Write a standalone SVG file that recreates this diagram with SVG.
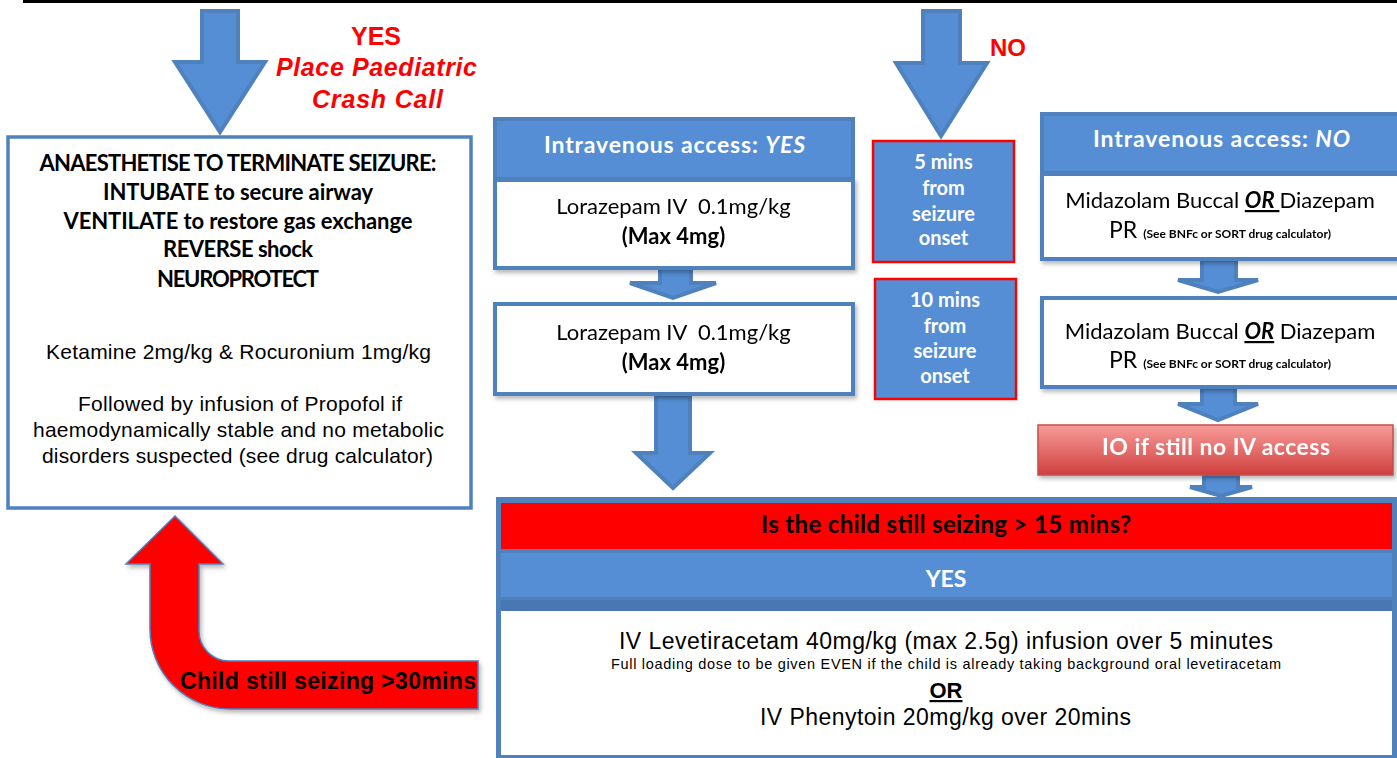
<svg xmlns="http://www.w3.org/2000/svg" width="1397" height="758" viewBox="0 0 1397 758">
<defs>
<style>
.cal{font-family:Lato,'Open Sans','Noto Sans',sans-serif}
.ari{font-family:'Liberation Sans',Arial,sans-serif}
.b{font-weight:bold}
.i{font-style:italic}
.c{text-anchor:middle}
.wt{fill:#fff}
.bk{fill:#000}
.rd{fill:#ff0000}
.hdr{fill:#558ed5;stroke:#4f81bd;stroke-width:4}
.wbox{fill:#fff;stroke:#4f81bd;stroke-width:4}
.arr{fill:#558ed5;stroke:#4f81bd;stroke-width:4;stroke-linejoin:miter}
.tbox{fill:#558ed5;stroke:#ff0000;stroke-width:2.5}
</style>
<filter id="sh" x="-5%" y="-10%" width="115%" height="130%"><feDropShadow dx="2" dy="3" stdDeviation="2" flood-color="#000" flood-opacity="0.28"/></filter>
<linearGradient id="io" x1="0" y1="0" x2="0" y2="1"><stop offset="0" stop-color="#f89c9a"/><stop offset="1" stop-color="#cf3f3d"/></linearGradient>
</defs>
<rect width="1397" height="758" fill="#fff"/>
<rect x="23" y="0" width="1374" height="3" fill="#000"/>

<g id="connectors">
<polygon class="arr" points="202,11 238,11 238,62 265,62 220,132 175,62 202,62"/>
<polygon class="arr" points="923,11 960,11 960,63 987,63 941,136 896,63 923,63"/>
<polygon class="arr" points="660,268 691,268 691,283 716,283 673,298 630,283 660,283"/>
<polygon class="arr" points="656,396 690,396 690,453 710,453 673,488 636,453 656,453"/>
<polygon class="arr" points="1202,260 1236,260 1236,280 1258,280 1218,292 1178,280 1202,280"/>
<polygon class="arr" points="1202,388 1235,388 1235,404 1258,404 1218,420 1178,404 1202,404"/>
<polygon class="arr" points="1204,476 1238,476 1238,487 1252,487 1221,496 1190,487 1204,487"/>
<g id="loop-arrow">
<path d="M175,516 L223,564 L199,564 L199,631 A30,30 0 0 0 229,661 L478,661 L478,709 L230,709 A80,80 0 0 1 150,629 L150,564 L126,564 Z" fill="#ff0000" stroke="#4f81bd" stroke-width="1.5" filter="url(#sh)"/>
<text class="ari b bk" x="180" y="689" font-size="23" textLength="296">Child still seizing &gt;30mins</text>
</g>
</g>

<g id="yes-label">
<text class="ari b rd c" x="376" y="45" font-size="25">YES</text>
<text class="ari b i rd c" x="376.5" y="76" font-size="25" textLength="201">Place Paediatric</text>
<text class="ari b i rd c" x="377.5" y="108" font-size="25" textLength="131">Crash Call</text>
</g>
<g id="no-label">
<text class="ari b rd" x="990" y="56" font-size="24">NO</text>
</g>

<g id="anaesthetise">
<rect x="8" y="137" width="463" height="371" fill="#fff" stroke="#4f81bd" stroke-width="3.5"/>
<g class="cal b bk c" font-size="22">
<text x="238" y="171" textLength="397">ANAESTHETISE TO TERMINATE SEIZURE:</text>
<text x="238" y="200" textLength="270">INTUBATE to secure airway</text>
<text x="238" y="229" textLength="349">VENTILATE to restore gas exchange</text>
<text x="238" y="257" textLength="150">REVERSE shock</text>
<text x="238" y="287" textLength="162">NEUROPROTECT</text>
</g>
<g class="ari bk c" font-size="21">
<text x="238.5" y="359" textLength="385">Ketamine 2mg/kg &amp; Rocuronium 1mg/kg</text>
<text x="240" y="411" textLength="324">Followed by infusion of Propofol if</text>
<text x="238.5" y="437" textLength="411">haemodynamically stable and no metabolic</text>
<text x="237.5" y="463" textLength="391">disorders suspected (see drug calculator)</text>
</g>
</g>

<g id="iv-yes">
<rect class="hdr" x="495" y="119" width="358" height="60"/>
<text class="cal b wt c" x="674.5" y="153" font-size="23" textLength="261">Intravenous access: <tspan class="i">YES</tspan></text>
</g>
<g id="lorazepam-1" filter="url(#sh)">
<rect class="wbox" x="495" y="180" width="358" height="88"/>
<text class="cal bk c" x="673.5" y="214" font-size="22">Lorazepam IV&#160; 0.1mg/kg</text>
<text class="cal b bk c" x="673.5" y="244" font-size="22">(Max 4mg)</text>
</g>
<g id="lorazepam-2" filter="url(#sh)">
<rect class="wbox" x="495" y="304" width="358" height="90"/>
<text class="cal bk c" x="673.5" y="340" font-size="22">Lorazepam IV&#160; 0.1mg/kg</text>
<text class="cal b bk c" x="673.5" y="370" font-size="22">(Max 4mg)</text>
</g>

<g id="t5">
<rect class="tbox" x="873" y="141" width="141" height="121"/>
<g class="cal b wt c" font-size="20">
<text x="943.5" y="169">5 mins</text>
<text x="943.5" y="195">from</text>
<text x="943.5" y="221">seizure</text>
<text x="943.5" y="245">onset</text>
</g>
</g>
<g id="t10">
<rect class="tbox" x="875" y="279" width="141" height="120"/>
<g class="cal b wt c" font-size="20">
<text x="945" y="307">10 mins</text>
<text x="945" y="333">from</text>
<text x="945" y="358">seizure</text>
<text x="945" y="383">onset</text>
</g>
</g>

<g id="iv-no">
<rect class="hdr" x="1042" y="114" width="360" height="59"/>
<text class="cal b wt c" x="1221.5" y="147" font-size="23" textLength="257">Intravenous access: <tspan class="i">NO</tspan></text>
</g>
<g id="midazolam-1" filter="url(#sh)">
<rect class="wbox" x="1042" y="174" width="360" height="85"/>
<text class="cal bk c" x="1220" y="208" font-size="22">Midazolam Buccal <tspan class="b i" text-decoration="underline">OR </tspan>Diazepam</text>
<text class="cal bk c" x="1220" y="238" font-size="23">PR <tspan class="b" font-size="12">(See BNFc or SORT drug calculator)</tspan></text>
</g>
<g id="midazolam-2" filter="url(#sh)">
<rect class="wbox" x="1042" y="298" width="360" height="89"/>
<text class="cal bk c" x="1220" y="339" font-size="22">Midazolam Buccal <tspan class="b i" text-decoration="underline">OR</tspan> Diazepam</text>
<text class="cal bk c" x="1220" y="368" font-size="23">PR <tspan class="b" font-size="12">(See BNFc or SORT drug calculator)</tspan></text>
</g>
<g id="io" filter="url(#sh)">
<rect x="1038" y="425" width="355" height="50" fill="url(#io)" stroke="#c0504d" stroke-width="1.5"/>
<text class="cal b wt c" x="1216" y="455" font-size="23" textLength="228">IO if still no IV access</text>
</g>

<g id="second-line">
<rect x="496" y="497" width="901" height="265" fill="#4f81bd"/>
<rect x="501" y="503" width="891" height="46" fill="#ff0000"/>
<text class="cal b bk c" x="946" y="533" font-size="24" textLength="370">Is the child still seizing &gt; 15 mins?</text>
<rect x="501" y="553" width="891" height="44" fill="#558ed5"/>
<text class="cal b wt c" x="946" y="587" font-size="23">YES</text>
<rect x="501" y="600" width="891" height="11" fill="#4877b3"/>
<rect x="501" y="611" width="891" height="144" fill="#fff"/>
<g class="ari bk c">
<text x="946" y="649" font-size="23" textLength="654">IV Levetiracetam 40mg/kg (max 2.5g) infusion over 5 minutes</text>
<text x="946" y="669" font-size="14.5" textLength="670">Full loading dose to be given EVEN if the child is already taking background oral levetiracetam</text>
<text class="b" x="946" y="698" font-size="22" text-decoration="underline">OR</text>
<text x="945.5" y="725" font-size="23" textLength="371">IV Phenytoin 20mg/kg over 20mins</text>
</g>
</g>
</svg>
